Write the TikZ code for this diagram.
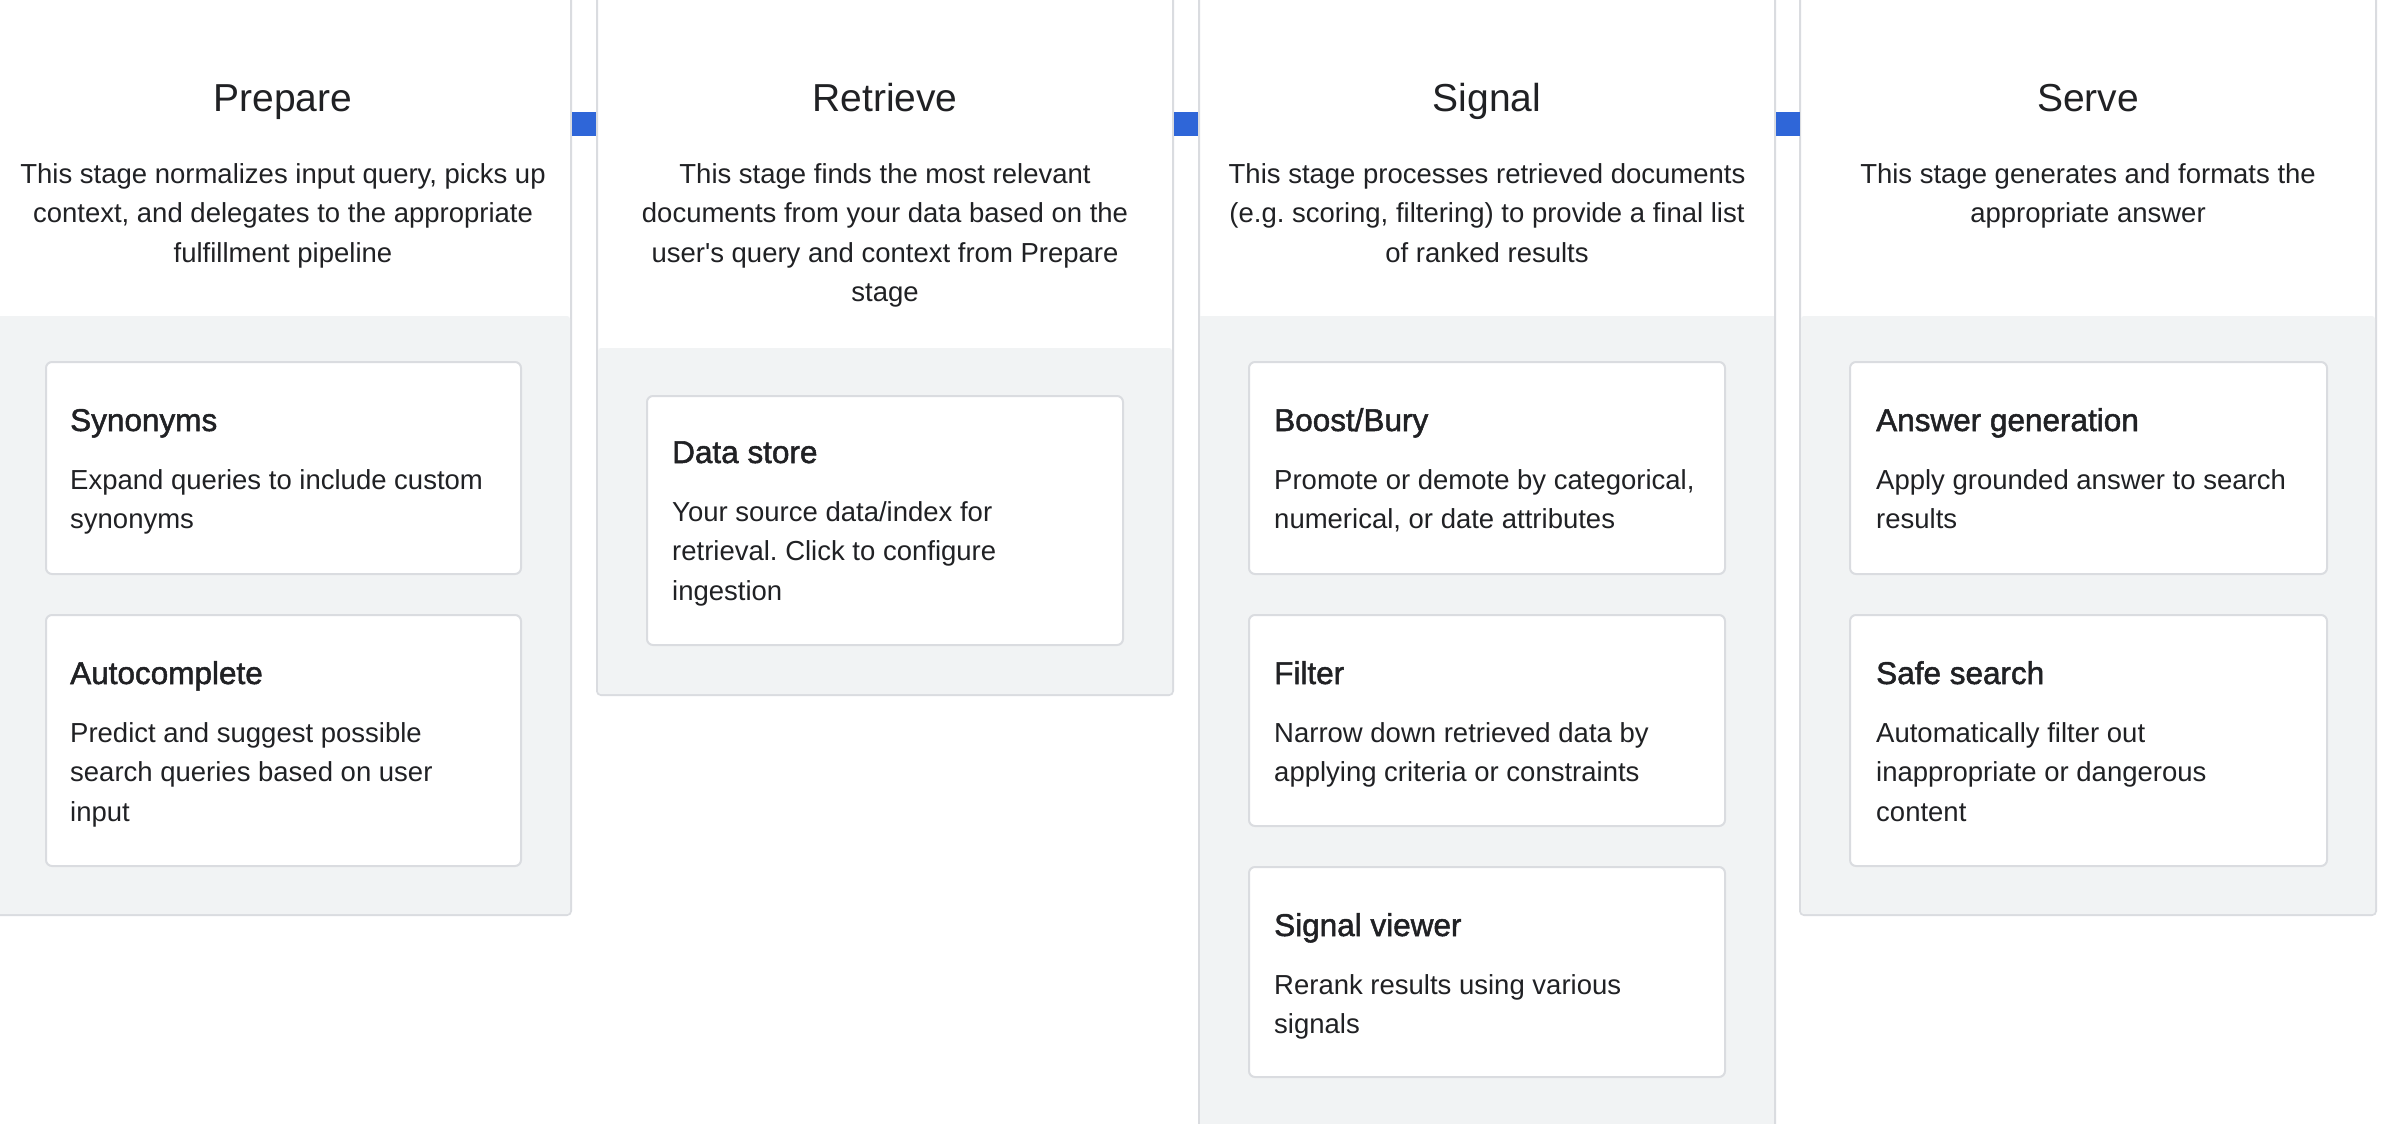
\documentclass[tikz,border=0pt]{standalone}
\usepackage{fontspec}
\setmainfont{Liberation Sans}[Ligatures=TeXOff]
\newfontfamily\medfont{Liberation Sans}[FakeBold=1.6,Ligatures=TeXOff]
\definecolor{txt}{HTML}{202124}
\definecolor{bordc}{HTML}{DADCE0}
\definecolor{bodyc}{HTML}{F1F3F4}
\definecolor{bluec}{HTML}{2F66D8}
\tikzset{
  colbox/.style={draw=bordc, line width=2pt, fill=white, rounded corners=4pt},
  bodybox/.style={fill=bodyc},
  cardbox/.style={draw=bordc, line width=2pt, fill=white, rounded corners=6pt},
  joinsq/.style={fill=bluec},
  stitle/.style={font=\fontsize{39}{46}\selectfont, text=txt, inner sep=0pt, anchor=base},
  sdesc/.style={font=\fontsize{27.5}{39.6}\selectfont, text=txt, inner sep=0pt, align=center, anchor=north},
  ctitle/.style={font=\medfont\fontsize{31.5}{36}\selectfont, text=txt, inner sep=0pt, anchor=base west},
  cdesc/.style={font=\fontsize{27.5}{39.6}\selectfont, text=txt, inner sep=0pt, align=left, anchor=north west},
}
\begin{document}
\frenchspacing
\begin{tikzpicture}[x=1pt,y=-1pt]
\path[use as bounding box, fill=white] (0,0) rectangle (2386,1124);

% ---- columns ----
% Prepare
\path[colbox] (-6,-10) rectangle (571,915);
\path[bodybox, rounded corners=3pt] (-6,316) -- (570,316) -- (570,914) -- (-6,914) -- cycle;
% Retrieve
\path[colbox] (597,-10) rectangle (1173,695);
\path[bodybox, rounded corners=3pt] (598,348) -- (1172,348) -- (1172,694) -- (598,694) -- cycle;
% Signal
\path[colbox] (1199,-10) rectangle (1775,1140);
\path[bodybox] (1200,316) rectangle (1774,1139);
% Serve
\path[colbox] (1800,-10) rectangle (2376,915);
\path[bodybox, rounded corners=3pt] (1801,316) -- (2375,316) -- (2375,914) -- (1801,914) -- cycle;

% ---- joining squares ----
\node[joinsq, minimum width=24pt, minimum height=24pt, inner sep=0pt] (j1) at (584,124) {};
\node[joinsq, minimum width=24pt, minimum height=24pt, inner sep=0pt] (j2) at (1186,124) {};
\node[joinsq, minimum width=24pt, minimum height=24pt, inner sep=0pt] (j3) at (1787.5,124) {};

% ---- headers ----
\node[stitle] (t1) at (283,111) {Prepare};
\node[sdesc] (d1) at (283,163) {This stage normalizes input query, picks up\\context, and delegates to the appropriate\\fulfillment pipeline};
\node[stitle] (t2) at (885,111) {Retrieve};
\node[sdesc] (d2) at (885,163) {This stage finds the most relevant\\documents from your data based on the\\user's query and context from Prepare\\stage};
\node[stitle] (t3) at (1487,111) {Signal};
\node[sdesc] (d3) at (1487,163) {This stage processes retrieved documents\\(e.g. scoring, filtering) to provide a final list\\of ranked results};
\node[stitle] (t4) at (2088,111) {Serve};
\node[sdesc] (d4) at (2088,163) {This stage generates and formats the\\appropriate answer};

% ---- cards ----
% Prepare
\path[cardbox] (46,362) rectangle (521,574);
\node[ctitle] (c1t) at (70,431) {Synonyms};
\node[cdesc] (c1d) at (70,469) {Expand queries to include custom\\synonyms};
\path[cardbox] (46,615) rectangle (521,866);
\node[ctitle] (c2t) at (70,684) {Autocomplete};
\node[cdesc] (c2d) at (70,722) {Predict and suggest possible\\search queries based on user\\input};
% Retrieve
\path[cardbox] (647,396) rectangle (1123,645);
\node[ctitle] (c3t) at (672,463) {Data store};
\node[cdesc] (c3d) at (672,501) {Your source data/index for\\retrieval. Click to configure\\ingestion};
% Signal
\path[cardbox] (1249,362) rectangle (1725,574);
\node[ctitle] (c4t) at (1274,431) {Boost/Bury};
\node[cdesc] (c4d) at (1274,469) {Promote or demote by categorical,\\numerical, or date attributes};
\path[cardbox] (1249,615) rectangle (1725,826);
\node[ctitle] (c5t) at (1274,684) {Filter};
\node[cdesc] (c5d) at (1274,722) {Narrow down retrieved data by\\applying criteria or constraints};
\path[cardbox] (1249,867) rectangle (1725,1077);
\node[ctitle] (c6t) at (1274,936) {Signal viewer};
\node[cdesc] (c6d) at (1274,974) {Rerank results using various\\signals};
% Serve
\path[cardbox] (1850,362) rectangle (2327,574);
\node[ctitle] (c7t) at (1876,431) {Answer generation};
\node[cdesc] (c7d) at (1876,469) {Apply grounded answer to search\\results};
\path[cardbox] (1850,615) rectangle (2327,866);
\node[ctitle] (c8t) at (1876,684) {Safe search};
\node[cdesc] (c8d) at (1876,722) {Automatically filter out\\inappropriate or dangerous\\content};
\end{tikzpicture}
\end{document}
